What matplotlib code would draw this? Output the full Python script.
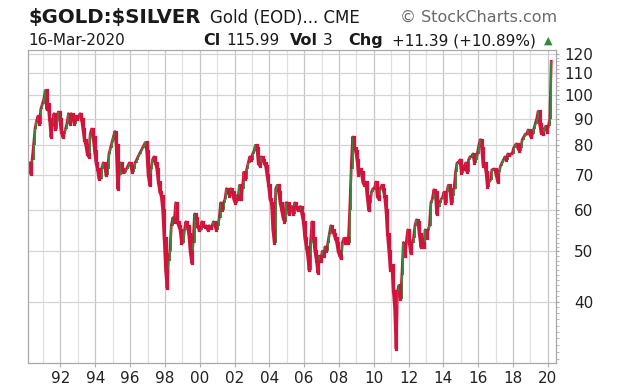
import numpy as np
import pandas as pd
import matplotlib
matplotlib.use("Agg")
import matplotlib.pyplot as plt
import matplotlib.dates as mdates
from matplotlib.ticker import FixedLocator, FormatStrFormatter, NullFormatter

# monthly closes of the gold/silver ratio, Mar 1990 .. Mar 2020
first_month = "1990-03-01"
ratio_close = [
    74, 70.5, 75, 80, 86, 89, 91, 88, 94, 96,                      # 1990 (Mar-Dec)
    98, 102, 94, 96, 90, 83, 88, 92, 86, 89, 92.7, 90,             # 1991
    85, 83, 84, 86, 88, 92, 88, 92, 90, 88, 91, 90,                # 1992
    91, 92, 90, 86, 82, 80, 77, 76, 84, 86, 83, 78,                # 1993
    74, 72, 69, 69, 72, 74, 73, 70, 72, 77, 79, 81,                # 1994
    83, 85, 80, 66, 70, 74, 72, 71, 71, 72, 73, 74,                # 1995
    73, 71, 72, 74, 75, 76, 77, 78, 79, 80, 81, 78,                # 1996
    70, 67, 72, 75, 76, 74, 72, 68, 65, 64, 60, 53,                # 1997
    46, 42.5, 48, 50, 56, 58, 57, 62, 57, 56, 55, 52,              # 1998
    52, 55, 57, 56, 54, 50, 47.5, 52, 59, 58, 56, 55,              # 1999
    55, 57, 56, 55.8, 56, 55, 56, 55.5, 56, 57, 56, 55,            # 2000
    56, 58, 62, 60, 62, 63, 66, 65, 64, 66, 65, 63,                # 2001
    62, 64, 63, 67, 63, 66, 71, 69, 72, 74, 76, 75,                # 2002
    77, 78, 80, 79, 74, 73, 76, 75, 74, 73, 70, 67,                # 2003
    63, 62, 55, 52, 66, 67, 65, 62, 60, 58, 57, 62,                # 2004
    62, 59, 60, 61, 59, 62, 61, 60, 60, 61, 59, 57,                # 2005
    53, 51, 49, 46, 52, 57, 53, 50, 48, 45.5, 49, 48,              # 2006
    50, 49, 51, 50, 52, 54, 56, 55, 54, 53, 52, 50,                # 2007
    49, 48.5, 52, 53, 52, 53, 52, 60, 72, 83, 79, 78,              # 2008
    75, 70, 72, 71, 68, 67, 68, 64, 60, 62, 65, 66,                # 2009
    66, 68, 64, 63, 66, 67, 66, 64, 60, 54, 50, 46,                # 2010
    47, 42, 39, 32.5, 42, 43, 40.5, 45, 52, 49, 52, 55,            # 2011
    52, 49.6, 52, 53, 56, 57.5, 57, 54, 51, 52, 51, 55,            # 2012
    53, 55, 56, 62, 63, 65.7, 65, 59, 61, 62, 63, 63.5,            # 2013
    65, 62, 65, 67, 66, 62, 64, 66, 71, 74, 74, 75,                # 2014
    70.8, 73, 72, 74, 71, 75, 76, 76, 77, 74, 75, 77,              # 2015
    80, 82, 79, 73, 74, 71, 66.5, 68, 68.5, 71.7, 72, 72,          # 2016
    70, 68, 71, 73, 74, 75, 76, 75, 77, 76.5, 77, 77,              # 2017
    79, 80, 80.5, 79, 78, 79, 82, 83, 84, 84, 85.6, 84,            # 2018
    83, 84, 86, 88, 90, 93, 88, 84.5, 84, 86, 87, 85,              # 2019
    87, 90, 116,                                                   # 2020 (Jan-Mar)
]
y_ticks = [40, 50, 60, 70, 80, 90, 100, 110, 120]

header_symbol = r"\$GOLD:\$SILVER"
header_desc = "Gold (EOD)... CME"
header_date = "16-Mar-2020"
last_close = "115.99"
last_vol = "3"
last_chg = "+11.39 (+10.89%)"

RED = "#d0143c"
GREEN = "#35893a"

close = np.array(ratio_close, dtype=float)
opens = np.concatenate([[close[0]], close[:-1]])
dates = pd.date_range(first_month, periods=len(close), freq="MS") + pd.Timedelta(days=14)

fig = plt.figure(figsize=(6.2, 3.89), dpi=100)
ax = fig.add_axes([28 / 620, 1 - 363 / 389, 528 / 620, 313 / 389])

up = close >= opens
dn = ~up
lo = np.minimum(opens, close)
hi = np.maximum(opens, close)

# red line through the closes, green up-candles on it, red down-candles on top
ax.plot(dates, close, color=RED, lw=2.0, zorder=2)
g = ax.vlines(dates[up], lo[up], hi[up], color=GREEN, lw=1.4, zorder=3)
r = ax.vlines(dates[dn], lo[dn], hi[dn], color=RED, lw=2.3, zorder=4)
g.set_capstyle("butt")
r.set_capstyle("projecting")

ax.set_yscale("log")
ax.set_ylim(30.5, 122)
ax.set_xlim(pd.Timestamp("1990-02-18"), pd.Timestamp("2020-06-23"))

ax.yaxis.set_major_locator(FixedLocator(y_ticks))
ax.yaxis.set_major_formatter(FormatStrFormatter("%d"))
ax.yaxis.set_minor_locator(FixedLocator(list(np.arange(31, 60, 1)) + list(np.arange(60, 122, 2))))
ax.yaxis.set_minor_formatter(NullFormatter())
ax.yaxis.tick_right()
ax.tick_params(axis="y", which="major", length=2.5, width=0.8, color="#a0a0a0",
               pad=24.5, labelsize=11, labelcolor="#222222")
ax.tick_params(axis="y", which="minor", length=1.8, width=0.6, color="#b0b0b0")
for lab in ax.get_yticklabels():
    lab.set_horizontalalignment("right")

ax.xaxis.set_major_locator(mdates.YearLocator(2))
ax.xaxis.set_minor_locator(mdates.YearLocator(1))
ax.xaxis.set_major_formatter(mdates.DateFormatter("%y"))
ax.tick_params(axis="x", which="major", length=3, width=0.8, color="#b0b0b0",
               pad=3, labelsize=11, labelcolor="#222222")
ax.tick_params(axis="x", which="minor", length=0)

ax.grid(True, axis="x", which="major", color="#c6c6c6", lw=0.9, zorder=0)
ax.grid(True, axis="x", which="minor", color="#e0e0e0", lw=0.9, zorder=0)
ax.grid(True, axis="y", which="major", color="#d4d4d4", lw=0.9, zorder=0)
ax.set_axisbelow(True)
for s in ax.spines.values():
    s.set_color("#a8a8a8")
    s.set_linewidth(0.9)


def px(x, y):
    return x / 620, 1 - y / 389


fig.text(*px(28, 23), header_symbol, fontsize=14.2, fontweight="bold", color="#1a1a1a")
fig.text(*px(210, 23), header_desc, fontsize=12, color="#1a1a1a")
fig.text(*px(557, 22), "\u00a9 StockCharts.com", fontsize=11.5, color="#6a6a6a", ha="right")

fig.text(*px(28, 45), header_date, fontsize=11, color="#1a1a1a")
fig.text(*px(203, 45), "Cl", fontsize=11.5, fontweight="bold", color="#1a1a1a")
fig.text(*px(226, 45), last_close, fontsize=11, color="#1a1a1a")
fig.text(*px(290, 45), "Vol", fontsize=11.5, fontweight="bold", color="#1a1a1a")
fig.text(*px(323, 45), last_vol, fontsize=11, color="#1a1a1a")
fig.text(*px(348, 45), "Chg", fontsize=11.5, fontweight="bold", color="#1a1a1a")
fig.text(*px(392, 45), last_chg, fontsize=11, color="#1a1a1a")
fig.text(*px(544, 44), "\u25b2", fontsize=8, color=GREEN)

fig.savefig("out.png", dpi=100)
